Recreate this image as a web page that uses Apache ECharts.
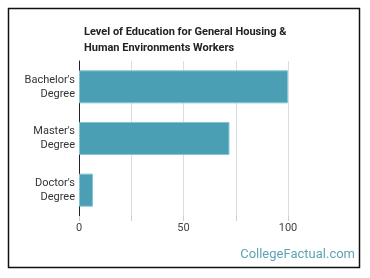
<!DOCTYPE html>
<html><head><meta charset="utf-8">
<script src="https://cdn.jsdelivr.net/npm/echarts@6/dist/echarts.min.js"></script>
<style>html,body{margin:0;padding:0;background:#fff}#c{width:370px;height:278px}</style>
</head><body><div id="c"></div>
<script>
var titleText = "Level of Education for General Housing &\nHuman Environments Workers";
var categories = ["Bachelor's\nDegree", "Master's\nDegree", "Doctor's\nDegree"];
var values = [100, 72, 6.7];
var xTicks = [0, 50, 100];
var watermark = "CollegeFactual.com";

var chart = echarts.init(document.getElementById('c'), null, {renderer:'canvas'});
chart.setOption({
  animation:false,
  title:{text:titleText,left:79,top:19,textStyle:{fontFamily:'Roboto',fontWeight:'bold',fontSize:11,color:'#222',lineHeight:16}},
  grid:{left:79,top:61,width:209,height:155,containLabel:false},
  xAxis:{type:'value',min:0,max:100,interval:25,
    axisLine:{show:false},
    axisTick:{show:true,length:5,lineStyle:{color:'#ccc'}},
    splitLine:{show:true,lineStyle:{color:'#ddd',width:1}},
    axisLabel:{fontFamily:'Roboto',fontSize:11,color:'#444',margin:7,
      formatter:function(v){return xTicks.indexOf(v)>=0?String(v):'';}}
  },
  yAxis:{type:'category',data:categories,inverse:true,
    axisLine:{show:true,lineStyle:{color:'#222',width:1}},
    axisTick:{show:false},
    axisLabel:{fontFamily:'Roboto',fontSize:11,color:'#333',lineHeight:14,margin:4,align:'right'}
  },
  series:[{type:'bar',data:values,barCategoryGap:'36%',
    itemStyle:{color:'#4a9fb4',borderColor:'#86c6d3',borderWidth:1}}],
  graphic:[
    {type:'rect',shape:{x:8.5,y:8.5,width:351,height:259},style:{fill:'none',stroke:'#111',lineWidth:1.5},z:100},
    {type:'text',right:15,top:248,style:{text:watermark,font:'13px Roboto',fill:'#5ea3b6'}}
  ]
});
</script></body></html>
